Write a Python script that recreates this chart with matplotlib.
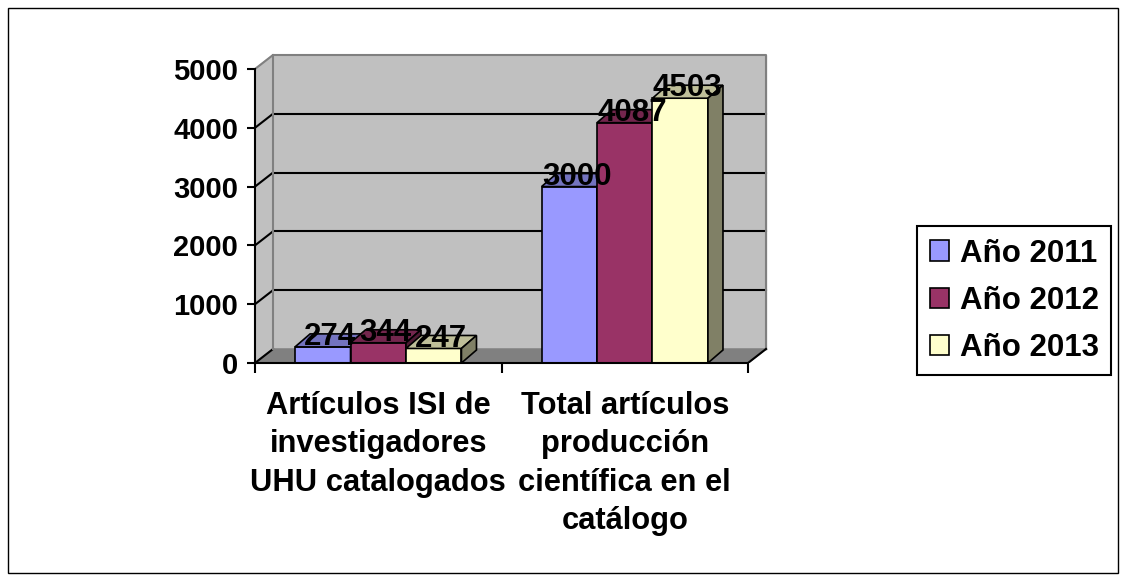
import matplotlib
matplotlib.use('Agg')
import matplotlib.pyplot as plt
from matplotlib.patches import Rectangle
import numpy as np

plt.rcParams['font.family'] = ['Liberation Sans', 'DejaVu Sans']
plt.rcParams['font.weight'] = 'bold'

# data
categories = ['Artículos ISI de\ninvestigadores\nUHU catalogados',
              'Total artículos\nproducción\ncientífica en el\ncatálogo']
series_names = ['Año 2011', 'Año 2012', 'Año 2013']
y2011 = [274, 3000]
y2012 = [344, 4087]
y2013 = [247, 4503]
series = [y2011, y2012, y2013]
colors = ['#9999FF', '#993366', '#FFFFCC']
yticks = [0, 1000, 2000, 3000, 4000, 5000]

# fake 3d depth (in data units)
ddx, ddy = 0.073, 238     # wall depth
bdx, bdy = 0.061, 221     # bar depth
bw = 0.225                # bar width

def shade(c, f):
    r, g, b = matplotlib.colors.to_rgb(c)
    return (r * f, g * f, b * f)

fig = plt.figure(figsize=(11.26, 5.81), dpi=100)
ax = fig.add_axes([0.22647, 0.37522, 0.45972, 0.5364])
ax.set_xlim(0, 2.1)
ax.set_ylim(0, 5300)

# walls and floor
top = yticks[-1]
ax.fill([0, ddx, ddx, 0], [0, ddy, top + ddy, top], color='#C0C0C0', zorder=0)
ax.fill([ddx, 2 + ddx, 2 + ddx, ddx], [ddy, ddy, top + ddy, top + ddy], color='#C0C0C0', zorder=0)
ax.fill([0, 2, 2 + ddx, ddx], [0, 0, ddy, ddy], color='#808080', zorder=0)

for v in yticks[1:-1]:
    ax.plot([ddx, 2 + ddx], [v + ddy, v + ddy], color='black', lw=1.5, zorder=1)
for v in yticks[:-1]:
    ax.plot([0, ddx], [v, v + ddy], color='black', lw=1.5, zorder=1)

edge = '#808080'
ax.plot([0, ddx, 2 + ddx, 2 + ddx], [top, top + ddy, top + ddy, ddy], color=edge, lw=1.5, zorder=1)
ax.plot([ddx, ddx], [ddy, top + ddy], color=edge, lw=1.5, zorder=1)
ax.plot([ddx, 2 + ddx], [ddy, ddy], color=edge, lw=1.0, zorder=1)
ax.plot([2, 2 + ddx], [0, ddy], color='black', lw=1.5, zorder=1)

# bars
for i in range(len(categories)):
    start = i + 0.5 - 1.5 * bw
    for j, vals in enumerate(series):
        v = vals[i]
        x0 = start + j * bw
        c = colors[j]
        ax.fill([x0, x0 + bw, x0 + bw, x0], [0, 0, v, v], facecolor=c,
                edgecolor='black', lw=1.2, zorder=3)
        ax.fill([x0, x0 + bw, x0 + bw + bdx, x0 + bdx], [v, v, v + bdy, v + bdy],
                facecolor=shade(c, 0.75), edgecolor='black', lw=1.2, zorder=3)
        ax.fill([x0 + bw, x0 + bw + bdx, x0 + bw + bdx, x0 + bw], [0, bdy, v + bdy, v],
                facecolor=shade(c, 0.5), edgecolor='black', lw=1.2, zorder=3)
    for j, vals in enumerate(series):
        x0 = start + j * bw
        ax.text(x0 + bw / 2 + bdx / 2, vals[i] + 30, str(vals[i]), ha='center',
                va='baseline', fontsize=22.5, fontweight='bold', zorder=5)

# axes
for s in ['top', 'right']:
    ax.spines[s].set_visible(False)
ax.spines['left'].set_bounds(0, 5000)
ax.spines['bottom'].set_bounds(0, 2)
ax.spines['left'].set_linewidth(1.5)
ax.spines['bottom'].set_linewidth(1.5)
ax.spines['left'].set_zorder(4)
ax.spines['bottom'].set_zorder(4)
ax.set_yticks(yticks)
ax.set_yticklabels([str(t) for t in yticks])
ax.tick_params(axis='y', length=6, width=1.5, pad=6, labelsize=21)
ax.set_xticks([0, 1, 2])
ax.set_xticklabels(['', '', ''])
ax.tick_params(axis='x', length=7, width=1.5)
for lab in ax.get_yticklabels():
    lab.set_fontweight('bold')

for i, name in enumerate(categories):
    ax.annotate(name, xy=(i + 0.5, 0), xycoords=('data', 'axes fraction'),
                xytext=(0, -20), textcoords='offset points', ha='center', va='top',
                fontsize=22.2, fontweight='bold', linespacing=1.37, annotation_clip=False)

handles = [Rectangle((0, 0), 1, 1, facecolor=c, edgecolor='black', lw=1.2) for c in colors]
leg = fig.legend(handles, series_names, loc='upper left', bbox_to_anchor=(917 / 1126, 1 - 226 / 581),
                 fontsize=22.5, frameon=True, fancybox=False, framealpha=1, edgecolor='black',
                 handlelength=0.62, handleheight=0.62, handletextpad=0.35, borderpad=0.4,
                 labelspacing=0.55, borderaxespad=0)
leg.get_frame().set_linewidth(1.5)
for t in leg.get_texts():
    t.set_fontweight('bold')

fig.add_artist(Rectangle((8 / 1126, 8 / 581), 1110 / 1126, 565 / 581, transform=fig.transFigure,
                         fill=False, edgecolor='black', lw=1.0))

fig.savefig('out.png', dpi=100)
